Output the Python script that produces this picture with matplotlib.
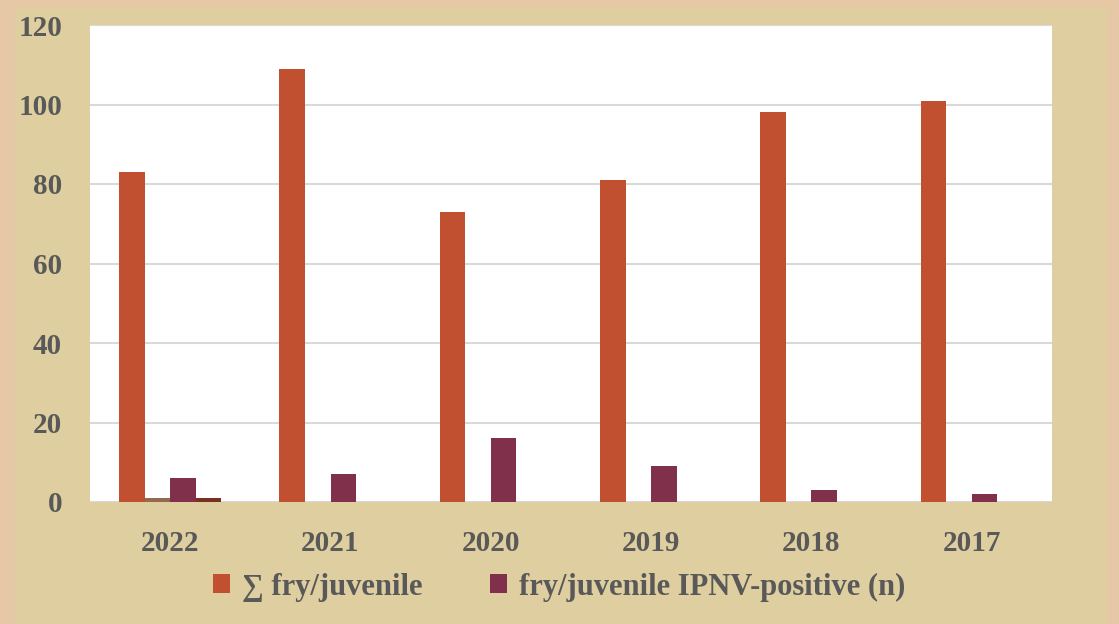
import numpy as np
import matplotlib.pyplot as plt
from matplotlib.patches import Rectangle

years = ["2022", "2021", "2020", "2019", "2018", "2017"]
total_fry = [83, 109, 73, 81, 98, 101]
extra_a = [1, 0, 0, 0, 0, 0]
ipnv_pos = [6, 7, 16, 9, 3, 2]
extra_b = [1, 0, 0, 0, 0, 0]

W, H = 1119, 624
plt.rcParams['font.family'] = ['Liberation Serif', 'DejaVu Serif']

fig = plt.figure(figsize=(W / 100, H / 100), dpi=100)
fig.patch.set_facecolor("#E6C7A6")
# tan panel behind everything
fig.patches.append(Rectangle((15 / W, 0), (1107 - 15) / W, (H - 7) / H,
                             transform=fig.transFigure, facecolor="#DFCFA0",
                             edgecolor="none", zorder=-5))

ax = fig.add_axes([90 / W, 1 - 502 / H, (1052 - 90) / W, (502 - 25) / H])
ax.set_zorder(2)
ax.set_facecolor("white")

x = np.arange(len(years))
bw = 0.16
ax.bar(x - 1.5 * bw, total_fry, bw, color="#C0502F", label="\u2211 fry/juvenile", zorder=3)
ax.bar(x - 0.5 * bw, extra_a, bw, color="#946A4F", zorder=3)
ax.bar(x + 0.5 * bw, ipnv_pos, bw, color="#80304A", label="fry/juvenile IPNV-positive (n)", zorder=3)
ax.bar(x + 1.5 * bw, extra_b, bw, color="#7A3020", zorder=3)

ax.set_xlim(-0.5, len(years) - 0.5)
ax.set_ylim(0, 120)
ax.set_yticks(range(0, 121, 20))
ax.yaxis.grid(True, color="#D9D9D9", linewidth=1.5, zorder=0)
ax.set_axisbelow(True)
for s in ax.spines.values():
    s.set_visible(False)
ax.tick_params(length=0)
ax.tick_params(axis="y", pad=20)
ax.tick_params(axis="x", pad=20)
ax.set_xticks(x)
ax.set_xticklabels(years)
for lab in ax.get_xticklabels() + ax.get_yticklabels():
    lab.set_fontsize(21)
    lab.set_fontweight("bold")
    lab.set_color("#595959")

leg = fig.legend(loc="center", bbox_to_anchor=(0.5, 1 - 587 / H), ncol=2,
                 frameon=False, handlelength=0.55, handleheight=0.6,
                 handletextpad=0.4, columnspacing=2.2,
                 prop={"weight": "bold", "size": 22})
for t in leg.get_texts():
    t.set_color("#595959")

fig.savefig("out.png", dpi=100)
